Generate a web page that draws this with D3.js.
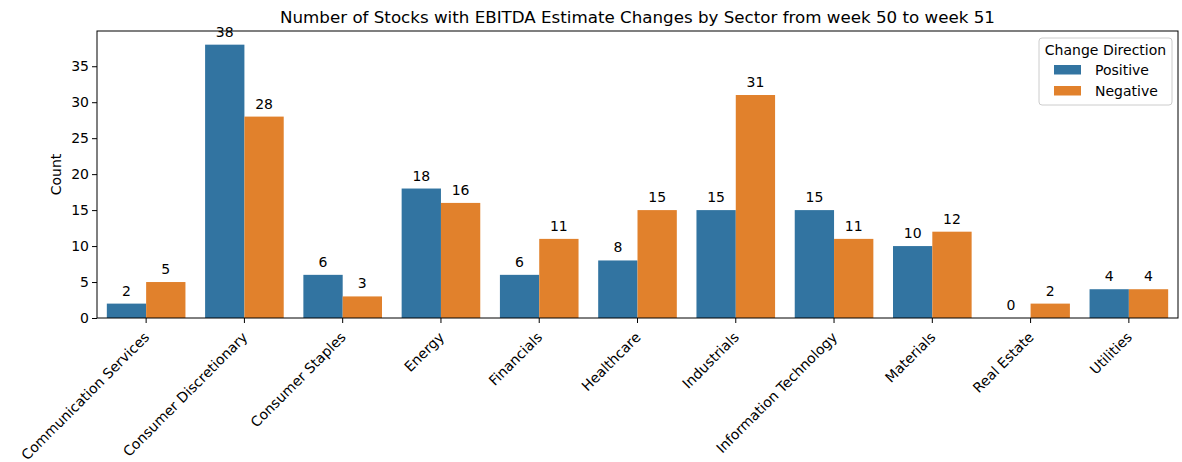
<!DOCTYPE html>
<html>
<head>
<meta charset="utf-8">
<script src="https://cdn.jsdelivr.net/npm/d3@7"></script>
<style>
  body { margin: 0; background: #fff; }
  text { font-family: "DejaVu Sans", sans-serif; fill: #000; }
</style>
</head>
<body>
<div id="chart"></div>
<script>
'use strict';

var sectors = ['Communication Services', 'Consumer Discretionary', 'Consumer Staples', 'Energy',
  'Financials', 'Healthcare', 'Industrials', 'Information Technology', 'Materials', 'Real Estate', 'Utilities'];
var positive = [2, 38, 6, 18, 6, 8, 15, 15, 10, 0, 4];
var negative = [5, 28, 3, 16, 11, 15, 31, 11, 12, 2, 4];
var directions = ['Positive', 'Negative'];
var colors = ['#3274a1', '#e1812c'];
var yTicks = [0, 5, 10, 15, 20, 25, 30, 35];

var W = 1182, H = 462;
var m = { left: 97, right: 4, top: 31, bottom: 144 };
var iw = W - m.left - m.right, ih = H - m.top - m.bottom;
var fs = '14px';

var svg = d3.select('#chart').append('svg').attr('width', W).attr('height', H);
var g = svg.append('g').attr('transform', 'translate(' + m.left + ',' + m.top + ')');

var x = d3.scaleBand().domain(sectors).range([0, iw]).paddingInner(0.2).paddingOuter(0.1);
var xs = d3.scaleBand().domain(directions).range([0, x.bandwidth()]);
var y = d3.scaleLinear().domain([0, 38 * 1.05]).range([ih, 0]);

var rows = sectors.map(function (s, i) {
  return { sector: s, values: [positive[i], negative[i]] };
});

var groups = g.selectAll('.grp').data(rows).enter().append('g')
  .attr('transform', function (d) { return 'translate(' + x(d.sector) + ',0)'; });

groups.selectAll('rect').data(function (d) {
  return d.values.map(function (v, j) { return { dir: directions[j], v: v, j: j }; });
}).enter().append('rect')
  .attr('x', function (d) { return xs(d.dir); })
  .attr('width', xs.bandwidth())
  .attr('y', function (d) { return y(d.v); })
  .attr('height', function (d) { return ih - y(d.v); })
  .attr('fill', function (d) { return colors[d.j]; });

// value labels on top of bars
groups.selectAll('.lbl').data(function (d) {
  return d.values.map(function (v, j) { return { dir: directions[j], v: v }; });
}).enter().append('text')
  .attr('x', function (d) { return xs(d.dir) + xs.bandwidth() / 2; })
  .attr('y', function (d) { return y(d.v) - 8; })
  .attr('text-anchor', 'middle')
  .style('font-size', fs)
  .text(function (d) { return d.v; });

// axes
var xAxis = g.append('g').attr('transform', 'translate(0,' + ih + ')')
  .call(d3.axisBottom(x).tickSize(5).tickSizeOuter(0));
xAxis.selectAll('text')
  .style('font-size', fs)
  .attr('text-anchor', 'end')
  .attr('y', 0).attr('x', 0).attr('dy', '0.71em')
  .attr('transform', 'translate(-3,13) rotate(-45)');

var yAxis = g.append('g').call(d3.axisLeft(y).tickValues(yTicks).tickSize(5).tickSizeOuter(0));
yAxis.selectAll('text').style('font-size', fs).attr('x', -8);

svg.selectAll('.domain').remove();
svg.selectAll('.tick line').attr('stroke', '#000');

// frame
g.append('rect').attr('width', iw).attr('height', ih)
  .attr('fill', 'none').attr('stroke', '#000').attr('stroke-width', 1);

svg.append('text').attr('x', m.left + iw / 2).attr('y', 23)
  .attr('text-anchor', 'middle').style('font-size', '16.7px')
  .text('Number of Stocks with EBITDA Estimate Changes by Sector from week 50 to week 51');

svg.append('text').attr('transform', 'translate(61,' + (m.top + ih / 2) + ') rotate(-90)')
  .attr('text-anchor', 'middle').style('font-size', fs).text('Count');

// legend
var lg = svg.append('g').attr('transform', 'translate(' + (m.left + iw - 139) + ',' + (m.top + 7) + ')');
lg.append('rect').attr('width', 133).attr('height', 67).attr('rx', 3)
  .attr('fill', '#fff').attr('fill-opacity', 0.8).attr('stroke', '#ccc');
lg.append('text').attr('x', 66.5).attr('y', 17).attr('text-anchor', 'middle')
  .style('font-size', fs).text('Change Direction');
directions.forEach(function (dname, i) {
  lg.append('rect').attr('x', 15).attr('y', 27 + i * 21).attr('width', 27).attr('height', 9.5)
    .attr('fill', colors[i]);
  lg.append('text').attr('x', 56).attr('y', 37 + i * 21)
    .style('font-size', fs).text(dname);
});
</script>
</body>
</html>
